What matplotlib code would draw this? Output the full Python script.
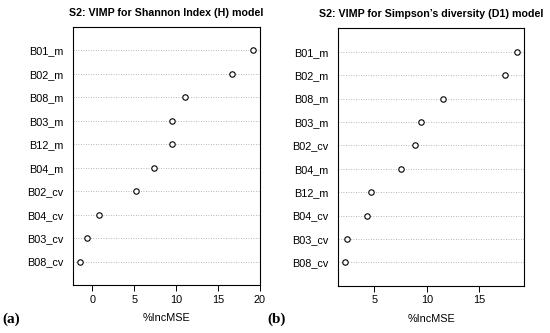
import matplotlib
matplotlib.use("Agg")
import matplotlib.pyplot as plt

plt.rcParams["font.family"] = ["Liberation Sans", "DejaVu Sans"]

# variable importance, top to bottom as shown
shannon_vars = ["B01_m", "B02_m", "B08_m", "B03_m", "B12_m",
                "B04_m", "B02_cv", "B04_cv", "B03_cv", "B08_cv"]
shannon_inc = [19.17, 16.6, 11.1, 9.5, 9.5, 7.4, 5.2, 0.8, -0.67, -1.5]

simpson_vars = ["B01_m", "B02_m", "B08_m", "B03_m", "B02_cv",
                "B04_m", "B12_m", "B04_cv", "B03_cv", "B08_cv"]
simpson_inc = [18.66, 17.48, 11.53, 9.46, 8.89, 7.52, 4.65, 4.33, 2.39, 2.2]

W, H = 550, 333


def dotchart(ax, labels, values, title, xticks):
    n = len(values)
    ys = [n - i for i in range(n)]
    lo, hi = min(values), max(values)
    pad = (hi - lo) * 0.04
    ax.set_xlim(lo - pad, hi + pad)
    ax.set_ylim(0, n + 1)
    for y in ys:
        ax.axhline(y, color="#a0a0a0", lw=0.6, ls=(0, (1, 2)), zorder=1)
    ax.plot(values, ys, "o", mfc="white", mec="black", mew=0.8, ms=3.9,
            ls="none", zorder=3)
    ax.set_yticks(ys)
    ax.set_yticklabels(labels, fontsize=7.8)
    ax.tick_params(axis="y", length=0, pad=7)
    ax.set_xticks(xticks)
    ax.tick_params(axis="x", length=4, width=0.7, labelsize=7.8, pad=3)
    ax.set_xlabel("%IncMSE", fontsize=7.8, labelpad=6)
    ax.set_title(title, fontsize=7.7, fontweight="bold", pad=8)
    for s in ax.spines.values():
        s.set_linewidth(0.8)


fig = plt.figure(figsize=(W / 100, H / 100), dpi=100)
ax1 = fig.add_axes([73 / W, (H - 285) / H, 187 / W, 258 / H])
ax2 = fig.add_axes([338.3 / W, (H - 285.7) / H, 186 / W, 257.4 / H])

dotchart(ax1, shannon_vars, shannon_inc,
         "S2: VIMP for Shannon Index (H) model", [0, 5, 10, 15, 20])
dotchart(ax2, simpson_vars, simpson_inc,
         "S2: VIMP for Simpson\u2019s diversity (D1) model", [5, 10, 15])

fig.text(2 / W, 1 - 319 / H, "(a)", family=["Liberation Serif", "DejaVu Serif"],
         fontweight="bold", fontsize=11, va="center")
fig.text(267 / W, 1 - 319 / H, "(b)", family=["Liberation Serif", "DejaVu Serif"],
         fontweight="bold", fontsize=11, va="center")

fig.savefig("out.png", dpi=100)
